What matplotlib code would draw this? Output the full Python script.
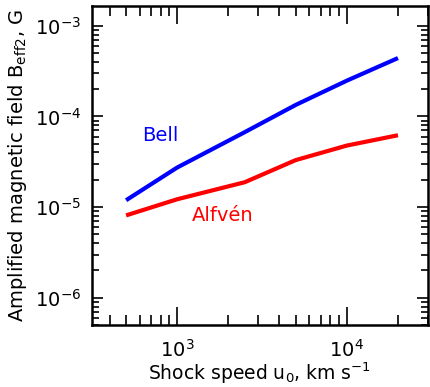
import matplotlib
matplotlib.use("Agg")
import matplotlib.pyplot as plt
from matplotlib.ticker import LogLocator, NullFormatter

plt.rcParams['font.family'] = ['DejaVu Sans']
plt.rcParams['mathtext.fontset'] = 'dejavusans'

speed = [500, 1000, 2500, 5000, 10000, 20000]
bell = [1.19e-5, 2.73e-5, 6.7e-5, 1.34e-4, 2.48e-4, 4.4e-4]
alfven = [8.1e-6, 1.22e-5, 1.88e-5, 3.3e-5, 4.77e-5, 6.2e-5]

fig = plt.figure(figsize=(4.30, 3.87), dpi=100)
ax = fig.add_axes([0.214, 0.160, 0.781, 0.8245])

ax.plot(speed, bell, color='#0000ff', lw=3, solid_capstyle='butt')
ax.plot(speed, alfven, color='#ff0000', lw=3, solid_capstyle='butt')

ax.set_xscale('log')
ax.set_yscale('log')
ax.set_xlim(315, 30000)
ax.set_ylim(5e-7, 1.65e-3)

ax.text(794, 6.1e-5, 'Bell', color='#0000ff', fontsize=14, ha='center', va='center')
ax.text(1866, 8.1e-6, 'Alfvén', color='#ff0000', fontsize=14, ha='center', va='center')

ax.set_xlabel('Shock speed u$_0$, km s$^{-1}$', fontsize=13.5, labelpad=0)
ax.set_ylabel('Amplified magnetic field B$_{\\rm eff2}$, G', fontsize=14, labelpad=4)

ax.xaxis.set_major_locator(LogLocator(base=10, numticks=10))
ax.xaxis.set_minor_locator(LogLocator(base=10, subs=range(2, 10), numticks=20))
ax.yaxis.set_major_locator(LogLocator(base=10, numticks=10))
ax.yaxis.set_minor_locator(LogLocator(base=10, subs=range(2, 10), numticks=20))
ax.xaxis.set_minor_formatter(NullFormatter())
ax.yaxis.set_minor_formatter(NullFormatter())

ax.tick_params(which='both', direction='in', top=True, right=True, labelsize=14, width=1.2)
ax.tick_params(axis='x', which='major', length=13, pad=10)
ax.tick_params(axis='x', which='minor', length=7)
ax.tick_params(axis='y', which='major', length=8, pad=8)
ax.tick_params(axis='y', which='minor', length=5)
for s in ax.spines.values():
    s.set_linewidth(1.8)

fig.savefig('out.png', dpi=100)
